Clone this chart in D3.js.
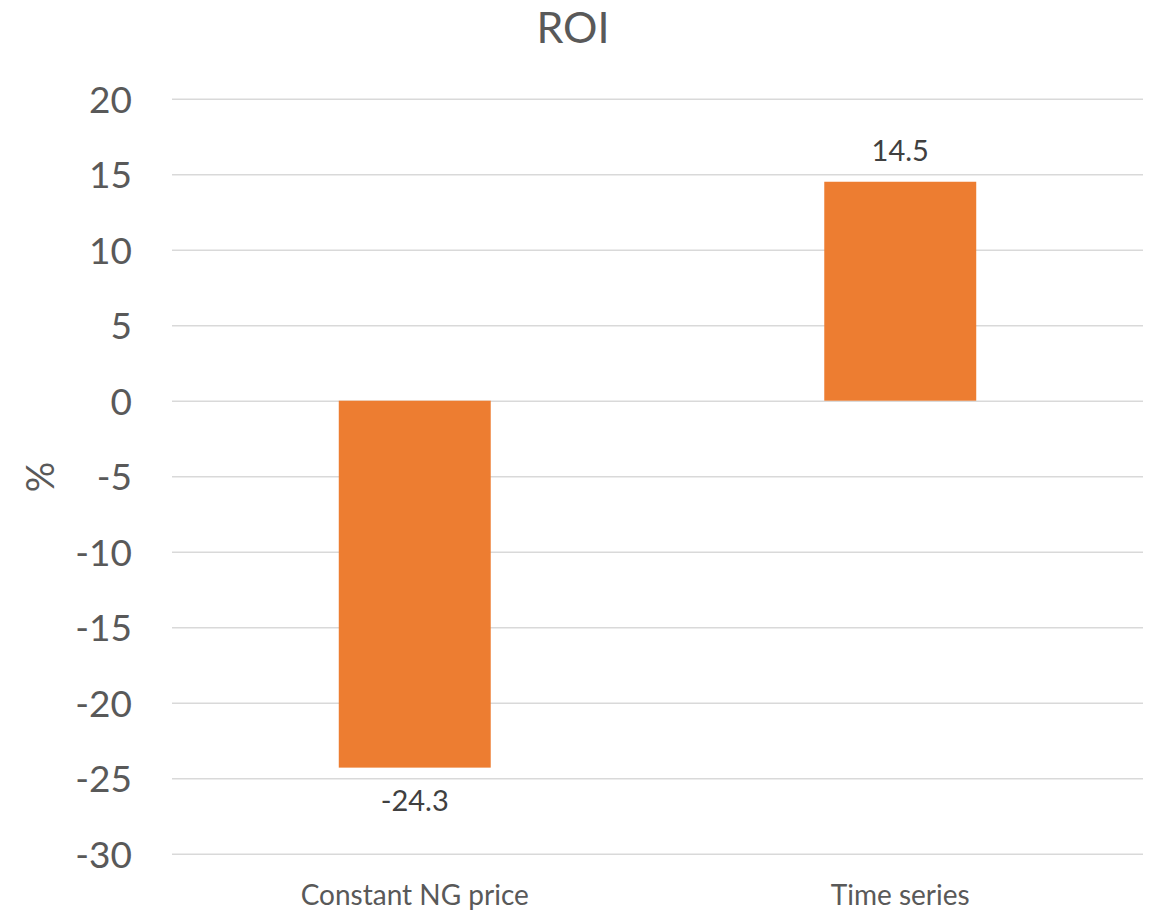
<!DOCTYPE html>
<html>
<head>
<meta charset="utf-8">
<script src="https://cdn.jsdelivr.net/npm/d3@7"></script>
<style>
  html, body { margin: 0; padding: 0; background: #ffffff; }
  svg { display: block; font-family: Lato, "Open Sans", sans-serif; }
</style>
</head>
<body>
<svg id="chart" width="1156" height="913"></svg>
<script>
// ---- data ----
const categories = ["Constant NG price", "Time series"];
const roiValues = [-24.3, 14.5];
const yTicks = [20, 15, 10, 5, 0, -5, -10, -15, -20, -25, -30];
const titleText = "ROI";
const yAxisLabel = "%";

// ---- layout ----
const W = 1156, H = 913;
const plot = { left: 172, right: 1143, top: 98.7, bottom: 853.7 };
const svg = d3.select("#chart");
svg.append("rect").attr("width", W).attr("height", H).attr("fill", "#ffffff");

const x = d3.scaleBand()
  .domain(categories)
  .range([plot.left, plot.right])
  .paddingInner(0.687)
  .paddingOuter(0.3435);

const y = d3.scaleLinear()
  .domain([-30, 20])
  .range([plot.bottom, plot.top]);

// hyphen-minus formatting like the source
const fmtInt = d => String(d);
const fmtOne = d => d.toFixed(1);

// gridlines + tick labels
const yAxis = d3.axisLeft(y)
  .tickValues(yTicks)
  .tickSize(-(plot.right - plot.left))
  .tickPadding(40)
  .tickFormat(fmtInt);

const gy = svg.append("g")
  .attr("transform", `translate(${plot.left},0)`)
  .call(yAxis);
gy.select(".domain").remove();
gy.selectAll(".tick line")
  .attr("stroke", "#d9d9d9")
  .attr("stroke-width", 1.5);
gy.selectAll(".tick text")
  .attr("fill", "#595959")
  .attr("font-size", 37)
  .attr("font-family", "Lato, 'Open Sans', sans-serif")
  .attr("dy", "0.36em");

// bars
svg.append("g").selectAll("rect")
  .data(categories.map((c, i) => ({ c, v: roiValues[i] })))
  .join("rect")
  .attr("x", d => x(d.c))
  .attr("width", x.bandwidth())
  .attr("y", d => y(Math.max(0, d.v)))
  .attr("height", d => Math.abs(y(d.v) - y(0)))
  .attr("fill", "#ED7D31");

// data labels
svg.append("g").selectAll("text")
  .data(categories.map((c, i) => ({ c, v: roiValues[i] })))
  .join("text")
  .attr("x", d => x(d.c) + x.bandwidth() / 2)
  .attr("y", d => d.v >= 0 ? y(d.v) - 20.5 : y(d.v) + 43)
  .attr("text-anchor", "middle")
  .attr("fill", "#404040")
  .attr("font-size", 29)
  .text(d => fmtOne(d.v));

// category labels
svg.append("g").selectAll("text")
  .data(categories)
  .join("text")
  .attr("x", d => x(d) + x.bandwidth() / 2)
  .attr("y", 905)
  .attr("text-anchor", "middle")
  .attr("fill", "#595959")
  .attr("font-size", 28)
  .text(d => d);

// title
svg.append("text")
  .attr("x", 573)
  .attr("y", 43)
  .attr("text-anchor", "middle")
  .attr("fill", "#595959")
  .attr("font-size", 43)
  .text(titleText);

// y axis label
svg.append("text")
  .attr("transform", `translate(54,477) rotate(-90)`)
  .attr("text-anchor", "middle")
  .attr("fill", "#595959")
  .attr("font-size", 38)
  .text(yAxisLabel);
</script>
</body>
</html>
